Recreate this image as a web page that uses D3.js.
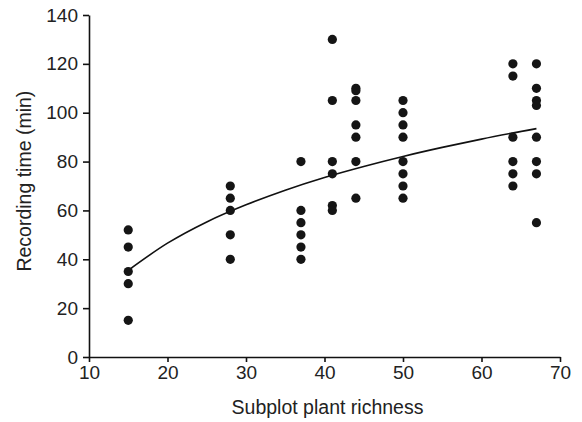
<!DOCTYPE html>
<html lang="en">
<head>
  <meta charset="utf-8">
  <title>Recording time vs subplot plant richness</title>
  <script src="https://d3js.org/d3.v7.min.js"></script>
  <style>
    body { margin: 0; background: #fff; }
    text { font-family: "Liberation Sans", Arial, sans-serif; fill: #222; }
    .axis text { font-size: 19px; }
    .axis path, .axis line { stroke: #111; stroke-width: 1.6px; }
    .title { font-size: 19.5px; text-anchor: middle; }
  </style>
</head>
<body>
  <div id="chart"></div>
  <script>
    var w = 582; // width
    var h = 422; // height

    // richness of each subplot column and the recording times found there
    var richness = [15, 28, 37, 41, 44, 50, 64, 67];
    var times = [
      [52, 45, 35, 30, 15],
      [70, 65, 60, 50, 40],
      [80, 60, 55, 50, 45, 40],
      [130, 105, 80, 75, 62, 60],
      [110, 109, 105, 95, 90, 80, 65],
      [105, 100, 95, 90, 80, 75, 70, 65],
      [120, 115, 90, 80, 75, 70],
      [120, 110, 105, 103, 90, 80, 75, 55]
    ];
    // fitted trend line
    var trendX = [15, 20, 25, 30, 35, 40, 45, 50, 55, 60, 67];
    var trendY = [35.5, 46.6, 55.3, 62.3, 68.3, 73.5, 78.0, 82.1, 85.8, 89.2, 93.5];

    var xTicks = [10, 20, 30, 40, 50, 60, 70];
    var yTicks = [0, 20, 40, 60, 80, 100, 120, 140];

    var margin = {left: 89, right: 22, top: 15, bottom: 65};

    var x = d3.scaleLinear().domain([10, 70]).range([margin.left, w - margin.right]);
    var y = d3.scaleLinear().domain([0, 140]).range([h - margin.bottom, margin.top]);

    var svg = d3.select('#chart').append('svg')
      .attr('width', w)
      .attr('height', h);

    // flatten the columns into points
    var points = [];
    richness.forEach(function (r, i) {
      times[i].forEach(function (t) {
        points.push({x: r, y: t});
      });
    });

    svg.append('g')
      .attr('class', 'axis')
      .attr('transform', 'translate(0,' + y(0) + ')')
      .call(d3.axisBottom(x).tickValues(xTicks).tickSize(5).tickSizeOuter(0).tickPadding(4));

    svg.append('g')
      .attr('class', 'axis')
      .attr('transform', 'translate(' + x(10) + ',0)')
      .call(d3.axisLeft(y).tickValues(yTicks).tickSize(6).tickSizeOuter(0).tickPadding(5));

    svg.selectAll('.axis .domain').attr('stroke', '#111');

    var line = d3.line()
      .x(function (d, i) { return x(trendX[i]); })
      .y(function (d) { return y(d); })
      .curve(d3.curveMonotoneX);

    svg.append('path')
      .datum(trendY)
      .attr('d', line)
      .attr('fill', 'none')
      .attr('stroke', '#111')
      .attr('stroke-width', 1.6);

    svg.selectAll('circle.dot')
      .data(points)
      .enter().append('circle')
      .attr('class', 'dot')
      .attr('cx', function (d) { return x(d.x); })
      .attr('cy', function (d) { return y(d.y); })
      .attr('r', 4.6)
      .style('fill', '#151515');

    svg.append('text')
      .attr('class', 'title')
      .attr('x', (x(10) + x(70)) / 2 + 3)
      .attr('y', 414)
      .text('Subplot plant richness');

    svg.append('text')
      .attr('class', 'title')
      .attr('transform', 'translate(31,' + y(72) + ') rotate(-90)')
      .text('Recording time (min)');
  </script>
</body>
</html>
